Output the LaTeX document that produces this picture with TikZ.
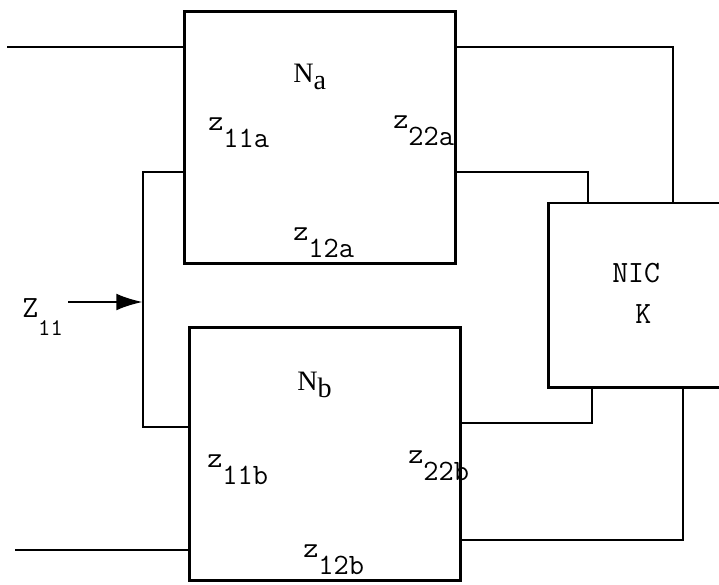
\documentclass[tikz,border=0pt]{standalone}
\usepackage{fontspec}
\setmainfont{Liberation Serif}
\usetikzlibrary{arrows.meta}

\newcommand{\sublbl}[3][0.6em]{#2\raisebox{-#1}{#3}}

\begin{document}
\begin{tikzpicture}[
x=0.025cm, y=-0.025cm,
blk/.style={draw, rectangle, line width=2.1pt, inner sep=0pt},
wire/.style={line width=2pt},
lbl/.style={inner sep=0pt, anchor=base west, font=\fontsize{21}{24}\selectfont\ttfamily}
]
\useasboundingbox (0,0) rectangle (719,585);

\node (Na) [blk, minimum width=6.75cm, minimum height=6.275cm] at (320,137.5) {};
\node (Nb) [blk, minimum width=6.75cm, minimum height=6.3cm] at (325,454) {};
\node (NIC) [blk, minimum width=5.775cm, minimum height=4.6cm] at (664.5,295) {};

\node (lNa) [lbl, font=\fontsize{20}{22}\selectfont\rmfamily] at (293,82) {\sublbl[0.25em]{N}{a}};
\node (lNb) [lbl, font=\fontsize{20}{22}\selectfont\rmfamily] at (297,390) {\sublbl[0.25em]{N}{b}};
\node (lz11a) [lbl] at (208,130) {\sublbl{z}{11a}};
\node (lz22a) [lbl] at (393,128) {\sublbl{z}{22a}};
\node (lz12a) [lbl] at (293,240) {\sublbl{z}{12a}};
\node (lz11b) [lbl] at (207,467) {\sublbl{z}{11b}};
\node (lz22b) [lbl] at (408,463) {\sublbl{z}{22b}};
\node (lz12b) [lbl] at (303,557) {\sublbl{z}{12b}};
\node (lnic) [lbl, font=\fontsize{22}{24}\selectfont\ttfamily] at (612,282) {NIC};
\node (lk) [lbl, font=\fontsize{22}{24}\selectfont\ttfamily] at (635,323) {K};
\node (lz) [lbl, font=\fontsize{22}{24}\selectfont\ttfamily] at (22,317) {Z\raisebox{-0.6em}{\fontsize{17}{18}\selectfont 11}};

% terminals and bends
\coordinate (ina) at (7,47);
\coordinate (inb) at (15,550);
\coordinate (zin) at (68,302);
\coordinate (bus) at (143,302);
\coordinate (ta) at (143,172);
\coordinate (tb) at (143,427);
\coordinate (ra) at (673,47);
\coordinate (rb) at (588,172);
\coordinate (rc) at (592,423);
\coordinate (rd) at (683,540);

\draw[wire] (ina) -- (ina -| Na.west);
\draw[wire] (inb) -- (inb -| Nb.west);
\draw[wire] (Na.west |- ta) -- (ta) -- (tb) -- (Nb.west |- tb);
\draw[wire, -{Latex[length=19pt, width=12pt]}] (zin) -- (bus);

\draw[wire] (Na.east |- ra) -- (ra) -- (ra |- NIC.north);
\draw[wire] (Na.east |- rb) -- (rb) -- (rb |- NIC.north);
\draw[wire] (Nb.east |- rc) -- (rc) -- (rc |- NIC.south);
\draw[wire] (Nb.east |- rd) -- (rd) -- (rd |- NIC.south);

\end{tikzpicture}
\end{document}
